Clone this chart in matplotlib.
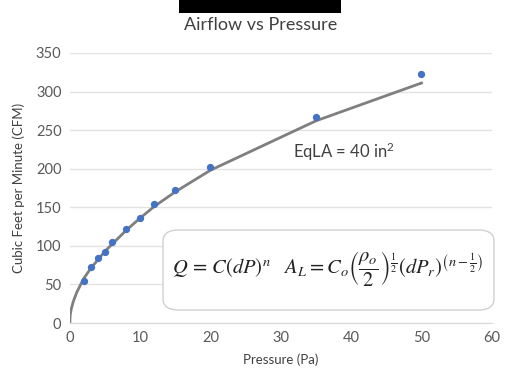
import numpy as np
import matplotlib.pyplot as plt
from matplotlib.patches import FancyBboxPatch, Rectangle

plt.rcParams['font.family'] = ['Lato', 'DejaVu Sans']
plt.rcParams['mathtext.fontset'] = 'stix'

# measured points
pressure = [2, 3, 4, 5, 6, 8, 10, 12, 15, 20, 35, 50]
cfm = [55, 73, 84, 92, 105, 122, 136, 154, 172, 202, 267, 323]

# fitted curve values
fit_p = [0, 0.05, 0.2, 0.5, 1, 2, 3, 4, 5, 6, 8, 10, 12, 15, 20, 35, 50]
fit_q = [0, 10, 18, 28, 40, 58, 71, 82, 93, 102, 120, 136, 151, 170, 198, 262, 311]

x_ticks = [0, 10, 20, 30, 40, 50, 60]
y_ticks = [0, 50, 100, 150, 200, 250, 300, 350]

fig = plt.figure(figsize=(5.21, 3.78), dpi=100)
ax = fig.add_axes([0.134, 0.1455, 0.81, 0.7145])

ax.plot(fit_p, fit_q, color='#7f7f7f', lw=2, zorder=3)
ax.scatter(pressure, cfm, s=18, color='#4472c4', zorder=4)

ax.set_xlim(0, 60)
ax.set_ylim(0, 350)
ax.set_xticks(x_ticks)
ax.set_yticks(y_ticks)
ax.grid(axis='y', color='#e3e3e3', lw=1)
ax.set_axisbelow(True)
for s in ['top', 'right', 'left']:
    ax.spines[s].set_visible(False)
ax.spines['bottom'].set_color('#d9d9d9')
ax.tick_params(length=0, labelsize=10.5, colors='#595959', pad=6)
ax.set_xlabel('Pressure (Pa)', fontsize=9.5, color='#404040', labelpad=6)
ax.set_ylabel('Cubic Feet per Minute (CFM)', fontsize=9.5, color='#404040', labelpad=8)

ax.text(31.7, 222, 'EqLA = 40 in$^{\\mathregular{2}}$', fontsize=12, color='#404040',
        ha='left', va='center')

# equation box
box = FancyBboxPatch((163 / 521, 1 - 310 / 378), (494 - 163) / 521, 80 / 378,
                     boxstyle='round,pad=0,rounding_size=0.03', transform=fig.transFigure,
                     facecolor='white', edgecolor='#d0d0d0', lw=1, zorder=5)
fig.patches.append(box)
fig.text(327 / 521, 1 - 268 / 378,
         r'$Q\,=\,C(dP)^{n}\quad A_L = C_o\left(\dfrac{\rho_o}{2}\right)^{\frac{1}{2}}(dP_r)^{\left(n-\frac{1}{2}\right)}$',
         fontsize=14.8, ha='center', va='center', color='#222222', zorder=6)

# black bar at top
fig.patches.append(Rectangle((179 / 521, 1 - 13 / 378), 162 / 521, 13 / 378,
                             transform=fig.transFigure, facecolor='black', zorder=5))
fig.text(0.5, 1 - 25 / 378, 'Airflow vs Pressure', fontsize=13, color='#404040',
         ha='center', va='center')

fig.savefig('out.png', dpi=100)
